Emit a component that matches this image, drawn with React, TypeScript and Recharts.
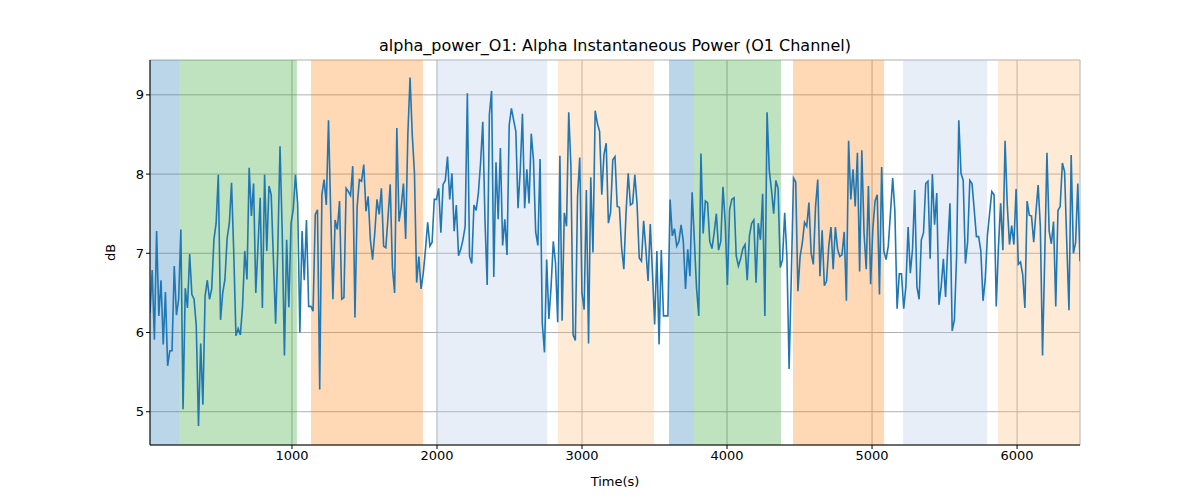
import React from 'react';
import {
  LineChart, Line, XAxis, YAxis, CartesianGrid, ReferenceArea, Label,
} from 'recharts';

// alpha power (dB), left to right
const alphaPower: number[] = [
  6.25, 6.79, 5.91, 7.28, 6.21, 6.66, 5.85, 6.51, 5.58, 5.77, 5.77, 6.84, 6.22, 6.42, 7.30, 5.03, 6.56, 6.31, 6.99, 6.48,
  6.42, 6.08, 4.82, 5.86, 5.09, 6.46, 6.66, 6.42, 6.55, 7.17, 7.38, 7.99, 6.16, 6.50, 6.67, 7.19, 7.38, 7.89, 7.01, 5.96,
  6.05, 5.97, 6.33, 7.03, 6.67, 8.08, 7.47, 7.88, 6.50, 7.09, 7.70, 6.31, 7.99, 7.03, 7.85, 7.74, 6.92, 6.11, 7.07, 8.35,
  7.26, 5.71, 7.17, 6.32, 7.38, 7.55, 7.99, 7.63, 6.00, 7.28, 6.66, 7.42,
  6.33, 6.33, 6.27, 7.49, 7.55, 5.28, 7.74, 7.93, 7.61, 8.68, 7.51, 6.42, 7.42, 7.30, 7.66, 6.42, 6.44, 7.82, 7.78, 7.73,
  8.10, 6.19, 7.59, 7.93, 7.91, 8.12, 7.53, 7.72, 7.17, 6.92, 7.26, 7.68, 7.49, 7.82, 7.09, 7.07, 7.45, 7.87, 6.82, 6.50,
  8.58, 7.40, 7.59, 7.88, 7.18, 8.50, 9.22, 8.50, 8.01, 6.63, 6.96, 6.55, 6.75, 7.05, 7.39, 7.09, 7.14, 7.68, 7.68, 7.82,
  7.26, 7.87, 7.92, 8.22, 7.68, 8.01, 7.28,
  7.61, 6.97, 7.05, 7.17, 7.34, 9.02, 6.96, 6.87, 7.61, 7.54, 7.76, 8.14, 8.66, 7.42, 6.60, 8.75, 9.05, 6.70, 8.15, 7.43,
  8.33, 7.10, 7.43, 6.98, 8.62, 8.83, 8.68, 8.54, 7.57, 8.05, 8.76, 7.57, 8.06, 7.63, 8.51, 8.18, 7.27, 7.10, 8.19, 6.12,
  5.75, 6.92, 6.17, 6.58, 7.15, 6.88, 6.13, 8.23, 6.15, 7.51, 7.34, 8.78, 8.10, 5.97, 5.90, 7.72, 8.21, 6.50, 6.29, 7.80,
  5.86, 7.96, 7.01, 8.80, 8.64, 8.54, 7.74, 8.25, 8.39,
  7.38, 7.52, 8.18, 8.22, 7.59, 7.58, 7.07, 6.80, 7.51, 8.01, 7.61, 7.63, 7.99, 7.63, 6.94, 6.90, 7.41, 7.05, 6.65, 7.37,
  6.75, 6.10, 7.03, 5.85, 7.04, 6.21, 6.21, 6.21, 7.68, 7.22, 7.31, 7.09, 7.15, 7.36, 7.15, 6.55, 7.05, 6.71, 7.77, 7.17,
  6.56, 6.21, 8.26, 7.25, 7.66, 7.64, 7.15, 7.06, 7.26, 7.50, 7.04, 7.15, 7.84, 7.39, 6.60, 7.55, 7.68, 7.70, 6.97, 6.84,
  6.93, 7.06, 7.11, 6.66, 7.22, 7.38, 7.42, 6.63, 7.38, 7.17, 7.75, 6.21,
  8.78, 8.05, 7.80, 7.50, 7.92, 7.82, 6.82, 6.92, 7.51, 6.96, 5.54, 6.71, 7.95, 7.90, 6.52, 6.96, 7.13, 7.39, 7.34, 7.64,
  7.00, 6.86, 7.59, 7.93, 6.71, 7.29, 6.59, 6.65, 7.09, 7.33, 6.80, 7.33, 7.05, 6.96, 6.98, 7.27, 6.40, 8.42, 7.68, 8.06,
  7.59, 8.27, 6.77, 8.30, 7.26, 6.80, 7.85, 6.61, 7.31, 7.66, 7.74, 6.48, 8.09, 7.03, 6.92, 7.09, 7.51, 7.95, 7.53, 6.30,
  6.74, 6.74, 6.30, 6.58, 7.33, 6.75, 7.05, 7.80, 6.58, 6.42, 7.17,
  7.26, 7.88, 7.91, 6.93, 8.00, 7.36, 7.76, 6.35, 6.58, 6.93, 6.45, 7.09, 7.63, 6.02, 6.16, 6.96, 8.68, 8.01, 7.92, 6.87,
  7.14, 7.92, 7.88, 7.55, 7.21, 7.21, 7.03, 6.40, 6.67, 7.23, 7.51, 7.78, 7.74, 6.33, 7.09, 7.63, 7.04, 8.42, 7.61, 7.11,
  7.35, 7.11, 7.81, 6.86, 6.89, 6.73, 6.31, 7.66, 7.48, 7.47, 7.14, 7.52, 7.86, 7.34, 5.71, 6.96, 8.27, 7.28, 7.12, 7.40,
  6.33, 7.54, 7.59, 8.14, 8.03, 7.13, 6.28, 8.24, 7.00, 7.13, 7.88, 6.90,
];

const T_START = 21;
const T_END = 6434;

// shaded stage spans: [start, end, colour]
const bandStarts = [21, 221, 1131, 2000, 2834, 3600, 3772, 4455, 5214, 5869];
const bandEnds = [221, 1034, 1903, 2759, 3497, 3772, 4372, 5083, 5793, 6434];
const bandColors = ['#1f77b4', '#2ca02c', '#ff7f0e', '#aec7e8', '#ffbb78', '#1f77b4', '#2ca02c', '#ff7f0e', '#aec7e8', '#ffbb78'];

const xTicks = [1000, 2000, 3000, 4000, 5000, 6000];
const yTicks = [5, 6, 7, 8, 9];

const step = (T_END - T_START) / (alphaPower.length - 1);
const data = alphaPower.map((v, i) => ({ t: T_START + i * step, v }));

const font = 'DejaVu Sans, sans-serif';
const tick = { fill: '#000', fontSize: 13, fontFamily: font };

export default function App() {
  return (
    <div style={{ position: 'absolute', left: 0, top: 0, width: 1200, height: 500, background: '#fff' }}>
      <div style={{ position: 'absolute', top: 36, width: 1230, textAlign: 'center', fontFamily: font, fontSize: 16 }}>
        alpha_power_O1: Alpha Instantaneous Power (O1 Channel)
      </div>
      <LineChart width={1200} height={500} data={data} margin={{ top: 60, right: 120, bottom: 0, left: 0 }}>
        {bandStarts.map((s, i) => (
          <ReferenceArea key={i} x1={s} x2={bandEnds[i]} fill={bandColors[i]} fillOpacity={0.3} stroke="none" ifOverflow="hidden" />
        ))}
        <CartesianGrid stroke="#b0b0b0" strokeWidth={1} />
        <XAxis dataKey="t" type="number" domain={[T_START, T_END]} ticks={xTicks} height={55}
          tick={tick} stroke="#000" tickSize={4} allowDataOverflow>
          <Label value="Time(s)" position="insideBottom" offset={14} style={{ fill: '#000', fontSize: 13, fontFamily: font }} />
        </XAxis>
        <XAxis xAxisId="top" orientation="top" type="number" domain={[T_START, T_END]} height={0} tick={false} tickLine={false} stroke="#000" />
        <YAxis type="number" domain={[4.58, 9.44]} ticks={yTicks} width={150} tick={tick} stroke="#000" tickSize={4} allowDataOverflow>
          <Label value="dB" angle={-90} position="insideLeft" offset={110} style={{ fill: '#000', fontSize: 13, fontFamily: font, textAnchor: 'middle' }} />
        </YAxis>
        <YAxis yAxisId="right" orientation="right" domain={[4.58, 9.44]} width={0} tick={false} tickLine={false} stroke="#000" />
        <Line dataKey="v" stroke="#1f77b4" strokeWidth={1.6} dot={false} isAnimationActive={false} />
      </LineChart>
    </div>
  );
}
